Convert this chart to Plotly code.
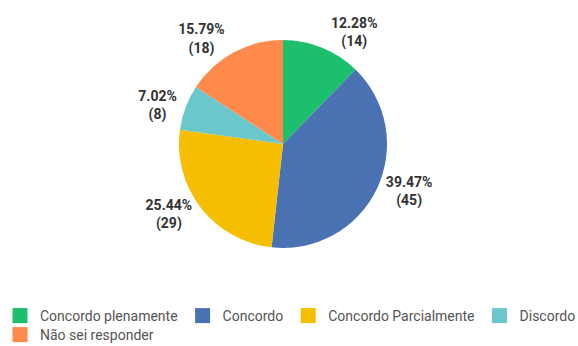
import plotly.graph_objects as go

categories = ["Concordo plenamente", "Concordo", "Concordo Parcialmente", "Discordo", "Não sei responder"]
values = [14, 45, 29, 8, 18]
colors = ["#1cbf6c", "#4a72b3", "#f6be00", "#6ac8cc", "#ff8a4c"]
legend_rows = ["legend", "legend", "legend", "legend", "legend2"]

W, H = 578, 346
cx, cy, r = 283, 144, 104

fig = go.Figure()
fig.add_trace(go.Pie(
    labels=categories,
    values=values,
    sort=False,
    direction="clockwise",
    rotation=0,
    marker=dict(colors=colors, line=dict(color="white", width=0)),
    textposition="outside",
    texttemplate="<b>%{percent:.2%}</b><br><b>(%{value})</b>",
    outsidetextfont=dict(family="Roboto", size=14, color="#333333"),
    domain=dict(x=[(cx - r) / W, (cx + r) / W], y=[1 - (cy + r) / H, 1 - (cy - r) / H]),
    showlegend=False,
    hoverinfo="label+value+percent",
))

# legend entries
for cat, col, lg in zip(categories, colors, legend_rows):
    fig.add_trace(go.Scatter(
        x=[None], y=[None], mode="markers", name=cat, legend=lg,
        marker=dict(symbol="square", size=15, color=col),
        hoverinfo="skip",
    ))

legend_font = dict(family="Roboto", size=14, color="#555555")
fig.update_layout(
    width=W, height=H,
    margin=dict(l=0, r=0, t=0, b=0, autoexpand=False),
    paper_bgcolor="white",
    plot_bgcolor="white",
    xaxis=dict(visible=False),
    yaxis=dict(visible=False),
    showlegend=True,
    legend=dict(
        orientation="h", x=0, y=1 - 316 / H, xanchor="left", yanchor="middle",
        font=legend_font, itemwidth=30, tracegroupgap=0, itemclick=False,
        bgcolor="rgba(0,0,0,0)",
    ),
    legend2=dict(
        orientation="h", x=0, y=1 - 335 / H, xanchor="left", yanchor="middle",
        font=legend_font, itemwidth=30, tracegroupgap=0, itemclick=False,
        bgcolor="rgba(0,0,0,0)",
    ),
)

fig.write_html("out.html")
